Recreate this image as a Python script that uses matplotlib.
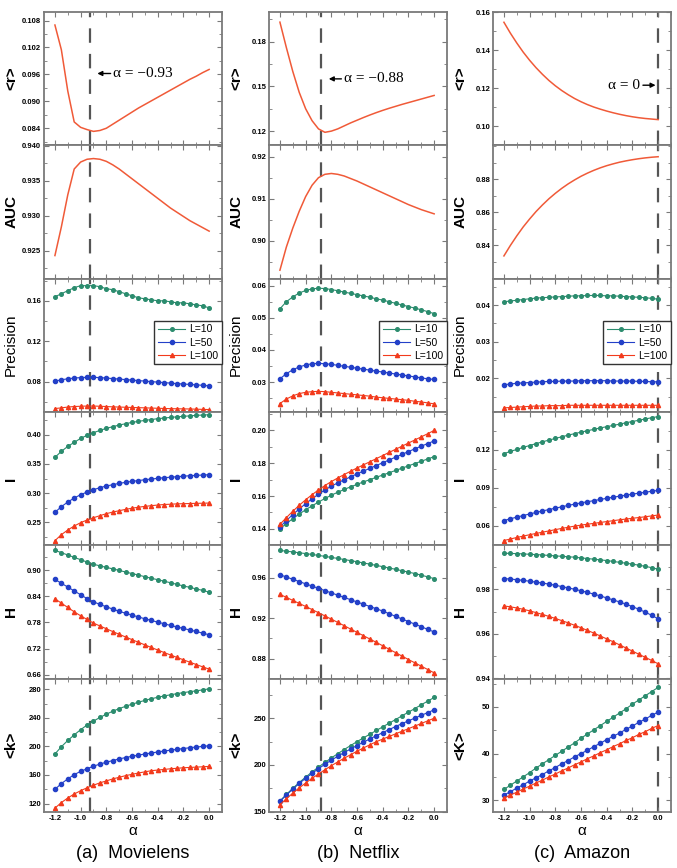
import numpy as np
import matplotlib.pyplot as plt
from matplotlib.ticker import MultipleLocator, AutoMinorLocator, FormatStrFormatter

plt.rcParams['font.family'] = ['Liberation Sans', 'DejaVu Sans']

alpha = [-1.2, -1.15, -1.1, -1.05, -1.0, -0.95, -0.9, -0.85, -0.8, -0.75, -0.7, -0.65,
         -0.6, -0.55, -0.5, -0.45, -0.4, -0.35, -0.3, -0.25, -0.2, -0.15, -0.1, -0.05, 0.0]

# ---- (a) Movielens ----
ml_r = [0.1070, 0.1015, 0.0923, 0.0854, 0.0842, 0.0837, 0.0833, 0.0835, 0.0840, 0.0849, 0.0858, 0.0867,
        0.0876, 0.0885, 0.0893, 0.0901, 0.0909, 0.0917, 0.0925, 0.0933, 0.0941, 0.0949, 0.0956, 0.0964, 0.0971]
ml_auc = [0.9243, 0.9284, 0.9330, 0.9367, 0.9377, 0.9381, 0.9382, 0.9381, 0.9378, 0.9373, 0.9367, 0.9360,
          0.9353, 0.9346, 0.9339, 0.9332, 0.9325, 0.9318, 0.9311, 0.9305, 0.9299, 0.9293, 0.9288, 0.9283, 0.9278]
ml_prec10 = [0.164, 0.167, 0.170, 0.173, 0.175, 0.175, 0.175, 0.174, 0.172, 0.171, 0.169, 0.167,
             0.165, 0.163, 0.162, 0.161, 0.160, 0.160, 0.159, 0.158, 0.158, 0.157, 0.156, 0.155, 0.153]
ml_prec50 = [0.0805, 0.0818, 0.0828, 0.0835, 0.0840, 0.0842, 0.0842, 0.0840, 0.0835, 0.0830, 0.0825, 0.0820,
             0.0815, 0.0810, 0.0805, 0.0800, 0.0795, 0.0790, 0.0785, 0.0780, 0.0776, 0.0772, 0.0768, 0.0763, 0.0758]
ml_prec100 = [0.0533, 0.0540, 0.0548, 0.0553, 0.0556, 0.0558, 0.0558, 0.0556, 0.0553, 0.0550, 0.0548, 0.0546,
              0.0544, 0.0542, 0.0540, 0.0538, 0.0536, 0.0534, 0.0532, 0.0531, 0.0530, 0.0529, 0.0527, 0.0525, 0.0523]
ml_i10 = [0.3612, 0.3715, 0.3800, 0.3869, 0.3937, 0.3989, 0.4034, 0.4074, 0.4108, 0.4137, 0.4165, 0.4188,
          0.4211, 0.4228, 0.4245, 0.4259, 0.4274, 0.4285, 0.4296, 0.4305, 0.4314, 0.4322, 0.4331, 0.4336, 0.4342]
ml_i50 = [0.2672, 0.2769, 0.2848, 0.2917, 0.2974, 0.3019, 0.3059, 0.3094, 0.3122, 0.3145, 0.3168, 0.3185,
          0.3202, 0.3216, 0.3230, 0.3242, 0.3253, 0.3265, 0.3273, 0.3282, 0.3290, 0.3299, 0.3304, 0.3310, 0.3316]
ml_i100 = [0.2187, 0.2290, 0.2370, 0.2438, 0.2495, 0.2541, 0.2580, 0.2615, 0.2649, 0.2677, 0.2700, 0.2723,
           0.2743, 0.2760, 0.2774, 0.2786, 0.2797, 0.2806, 0.2811, 0.2817, 0.2820, 0.2823, 0.2826, 0.2828, 0.2831]
ml_h10 = [0.9461, 0.9408, 0.9354, 0.9300, 0.9246, 0.9192, 0.9142, 0.9104, 0.9069, 0.9035, 0.9000, 0.8962,
          0.8927, 0.8892, 0.8854, 0.8819, 0.8785, 0.8750, 0.8715, 0.8677, 0.8642, 0.8608, 0.8573, 0.8538, 0.8500]
ml_h50 = [0.8792, 0.8704, 0.8616, 0.8527, 0.8439, 0.8350, 0.8277, 0.8216, 0.8162, 0.8108, 0.8058, 0.8012,
          0.7970, 0.7927, 0.7885, 0.7847, 0.7808, 0.7770, 0.7731, 0.7697, 0.7662, 0.7627, 0.7593, 0.7554, 0.7516]
ml_h100 = [0.8346, 0.8246, 0.8146, 0.8046, 0.7954, 0.7870, 0.7785, 0.7720, 0.7655, 0.7591, 0.7528, 0.7466,
           0.7404, 0.7344, 0.7284, 0.7224, 0.7166, 0.7108, 0.7051, 0.6995, 0.6940, 0.6885, 0.6831, 0.6778, 0.6726]
ml_k10 = [189.4, 199.5, 208.3, 216.1, 223.4, 229.9, 235.4, 240.5, 245.1, 249.2, 252.9, 256.1,
          259.1, 261.8, 264.4, 266.7, 268.7, 270.6, 272.2, 273.8, 275.2, 276.6, 277.7, 279.1, 280.5]
ml_k50 = [139.8, 148.0, 154.5, 160.5, 165.1, 168.7, 172.4, 175.2, 177.9, 180.2, 182.5, 184.4,
          186.2, 187.8, 189.4, 190.8, 192.2, 193.6, 194.7, 195.9, 197.0, 198.2, 199.1, 200.0, 200.9]
ml_k100 = [113.6, 121.4, 127.8, 133.4, 138.0, 142.1, 145.7, 149.0, 151.7, 154.5, 156.8, 159.1,
           160.9, 162.8, 164.4, 166.0, 166.9, 167.8, 168.7, 169.4, 170.1, 170.6, 171.0, 171.5, 172.0]

# ---- (b) Netflix ----
nf_r = [0.193, 0.176, 0.160, 0.146, 0.135, 0.127, 0.1215, 0.1192, 0.1200, 0.1215, 0.1235, 0.1255,
        0.1273, 0.1291, 0.1308, 0.1324, 0.1339, 0.1353, 0.1366, 0.1379, 0.1391, 0.1403, 0.1415, 0.1427, 0.1439]
nf_auc = [0.8930, 0.8985, 0.9030, 0.9070, 0.9105, 0.9132, 0.9150, 0.9158, 0.9160, 0.9158, 0.9154, 0.9148,
          0.9142, 0.9135, 0.9128, 0.9121, 0.9114, 0.9107, 0.9100, 0.9093, 0.9086, 0.9080, 0.9074, 0.9069, 0.9064]
nf_prec10 = [0.0528, 0.0550, 0.0565, 0.0577, 0.0585, 0.0590, 0.0592, 0.0591, 0.0588, 0.0584, 0.0580, 0.0576,
             0.0572, 0.0568, 0.0564, 0.0559, 0.0555, 0.0550, 0.0545, 0.0540, 0.0535, 0.0530, 0.0525, 0.0519, 0.0513]
nf_prec50 = [0.0310, 0.0326, 0.0338, 0.0347, 0.0353, 0.0357, 0.0358, 0.0357, 0.0355, 0.0352, 0.0349, 0.0346,
             0.0343, 0.0340, 0.0337, 0.0334, 0.0331, 0.0328, 0.0325, 0.0322, 0.0319, 0.0316, 0.0313, 0.0310, 0.0308]
nf_prec100 = [0.0233, 0.0247, 0.0257, 0.0264, 0.0268, 0.0270, 0.0271, 0.0270, 0.0268, 0.0266, 0.0264, 0.0262,
              0.0260, 0.0258, 0.0256, 0.0253, 0.0251, 0.0249, 0.0247, 0.0245, 0.0243, 0.0240, 0.0238, 0.0235, 0.0232]
nf_i10 = [0.1400, 0.1432, 0.1462, 0.1490, 0.1516, 0.1540, 0.1563, 0.1585, 0.1605, 0.1623, 0.1640, 0.1656,
          0.1671, 0.1686, 0.1700, 0.1714, 0.1728, 0.1742, 0.1756, 0.1770, 0.1784, 0.1798, 0.1812, 0.1826, 0.1840]
nf_i50 = [0.1411, 0.1450, 0.1487, 0.1521, 0.1553, 0.1583, 0.1611, 0.1637, 0.1660, 0.1680, 0.1699, 0.1717,
          0.1735, 0.1752, 0.1769, 0.1786, 0.1803, 0.1820, 0.1837, 0.1854, 0.1871, 0.1888, 0.1904, 0.1920, 0.1936]
nf_i100 = [0.1427, 0.1468, 0.1507, 0.1543, 0.1577, 0.1608, 0.1637, 0.1664, 0.1688, 0.1710, 0.1731, 0.1751,
           0.1771, 0.1790, 0.1809, 0.1828, 0.1847, 0.1866, 0.1885, 0.1904, 0.1923, 0.1942, 0.1961, 0.1980, 0.2000]
nf_h10 = [0.9871, 0.9864, 0.9856, 0.9848, 0.9840, 0.9831, 0.9822, 0.9812, 0.9802, 0.9792, 0.9781, 0.9770,
          0.9759, 0.9747, 0.9735, 0.9723, 0.9710, 0.9697, 0.9684, 0.9670, 0.9656, 0.9642, 0.9626, 0.9609, 0.9592]
nf_h50 = [0.9630, 0.9608, 0.9585, 0.9563, 0.9540, 0.9518, 0.9495, 0.9473, 0.9450, 0.9428, 0.9405, 0.9383,
          0.9360, 0.9338, 0.9315, 0.9293, 0.9270, 0.9244, 0.9218, 0.9192, 0.9166, 0.9141, 0.9115, 0.9089, 0.9063]
nf_h100 = [0.9436, 0.9406, 0.9376, 0.9346, 0.9316, 0.9285, 0.9254, 0.9222, 0.9190, 0.9158, 0.9125, 0.9092,
           0.9059, 0.9026, 0.8993, 0.8960, 0.8926, 0.8892, 0.8858, 0.8824, 0.8790, 0.8757, 0.8724, 0.8691, 0.8658]
nf_k10 = [161.5, 168.5, 175.0, 181.2, 187.0, 192.5, 197.7, 202.7, 207.5, 212.1, 216.5, 220.8,
          225.0, 229.0, 232.9, 236.9, 240.8, 244.7, 248.6, 252.6, 256.5, 260.4, 264.4, 268.3, 272.2]
nf_k50 = [161.0, 167.8, 174.2, 180.2, 185.8, 191.0, 196.0, 200.7, 205.1, 209.3, 213.3, 217.1,
          220.8, 224.4, 227.9, 231.3, 234.6, 237.9, 241.1, 244.2, 247.2, 250.2, 253.1, 256.0, 259.0]
nf_k100 = [157.5, 163.8, 169.8, 175.4, 180.7, 185.7, 190.4, 194.9, 199.2, 203.3, 207.2, 211.0,
           214.7, 218.2, 221.6, 224.9, 227.7, 230.5, 233.3, 236.1, 238.8, 241.6, 244.4, 247.2, 250.0]

# ---- (c) Amazon ----
az_r = [0.1547, 0.1490, 0.1438, 0.1390, 0.1347, 0.1308, 0.1273, 0.1241, 0.1213, 0.1188, 0.1166, 0.1146,
        0.1129, 0.1114, 0.1101, 0.1090, 0.1080, 0.1071, 0.1063, 0.1056, 0.1050, 0.1045, 0.1041, 0.1038, 0.1035]
az_auc = [0.8337, 0.8400, 0.8458, 0.8512, 0.8560, 0.8605, 0.8645, 0.8682, 0.8715, 0.8745, 0.8772, 0.8796,
          0.8818, 0.8837, 0.8854, 0.8869, 0.8882, 0.8893, 0.8903, 0.8911, 0.8918, 0.8924, 0.8929, 0.8933, 0.8936]
az_prec10 = [0.0409, 0.0411, 0.0413, 0.0415, 0.0417, 0.0419, 0.0420, 0.0421, 0.0422, 0.0423, 0.0424, 0.0425,
             0.0425, 0.0426, 0.0426, 0.0426, 0.0425, 0.0425, 0.0424, 0.0423, 0.0422, 0.0421, 0.0420, 0.0418, 0.0416]
az_prec50 = [0.0183, 0.0185, 0.0187, 0.0188, 0.0189, 0.0190, 0.0191, 0.0192, 0.0192, 0.0193, 0.0193, 0.0193,
             0.0194, 0.0194, 0.0194, 0.0194, 0.0194, 0.0193, 0.0193, 0.0193, 0.0193, 0.0192, 0.0192, 0.0191, 0.0191]
az_prec100 = [0.0120, 0.0121, 0.0122, 0.0123, 0.0124, 0.0125, 0.0125, 0.0126, 0.0126, 0.0126, 0.0127, 0.0127,
              0.0127, 0.0127, 0.0127, 0.0127, 0.0127, 0.0127, 0.0127, 0.0127, 0.0127, 0.0127, 0.0127, 0.0127, 0.0127]
az_i10 = [0.1170, 0.1187, 0.1203, 0.1219, 0.1234, 0.1249, 0.1263, 0.1277, 0.1290, 0.1303, 0.1316, 0.1328,
          0.1340, 0.1351, 0.1362, 0.1373, 0.1383, 0.1393, 0.1403, 0.1414, 0.1424, 0.1434, 0.1444, 0.1454, 0.1463]
az_i50 = [0.0640, 0.0654, 0.0667, 0.0680, 0.0692, 0.0704, 0.0716, 0.0727, 0.0738, 0.0749, 0.0760, 0.0770,
          0.0780, 0.0789, 0.0798, 0.0807, 0.0816, 0.0825, 0.0833, 0.0841, 0.0849, 0.0857, 0.0864, 0.0872, 0.0879]
az_i100 = [0.0482, 0.0494, 0.0506, 0.0517, 0.0528, 0.0538, 0.0548, 0.0558, 0.0568, 0.0578, 0.0587, 0.0596,
           0.0604, 0.0611, 0.0618, 0.0625, 0.0632, 0.0639, 0.0646, 0.0652, 0.0658, 0.0664, 0.0670, 0.0677, 0.0684]
az_h10 = [0.9962, 0.9961, 0.9960, 0.9959, 0.9957, 0.9956, 0.9954, 0.9952, 0.9950, 0.9948, 0.9946, 0.9944,
          0.9941, 0.9938, 0.9935, 0.9932, 0.9929, 0.9925, 0.9921, 0.9917, 0.9913, 0.9908, 0.9903, 0.9897, 0.9890]
az_h50 = [0.9848, 0.9846, 0.9843, 0.9840, 0.9836, 0.9832, 0.9828, 0.9823, 0.9818, 0.9812, 0.9806, 0.9800,
          0.9793, 0.9786, 0.9778, 0.9770, 0.9761, 0.9752, 0.9743, 0.9733, 0.9722, 0.9710, 0.9697, 0.9683, 0.9667]
az_h100 = [0.9725, 0.9721, 0.9716, 0.9710, 0.9703, 0.9695, 0.9687, 0.9678, 0.9669, 0.9659, 0.9649, 0.9638,
           0.9627, 0.9615, 0.9603, 0.9590, 0.9577, 0.9564, 0.9550, 0.9536, 0.9522, 0.9508, 0.9494, 0.9480, 0.9465]
az_k10 = [32.3, 33.2, 34.1, 35.0, 35.9, 36.9, 37.8, 38.7, 39.6, 40.5, 41.4, 42.3,
          43.3, 44.2, 45.1, 46.0, 46.9, 47.8, 48.7, 49.6, 50.6, 51.5, 52.4, 53.3, 54.2]
az_k50 = [31.1, 31.8, 32.6, 33.3, 34.1, 34.8, 35.5, 36.3, 37.0, 37.8, 38.5, 39.3,
          40.0, 40.7, 41.5, 42.2, 43.0, 43.7, 44.4, 45.2, 45.9, 46.7, 47.4, 48.2, 48.9]
az_k100 = [30.4, 31.1, 31.7, 32.4, 33.0, 33.7, 34.3, 35.0, 35.6, 36.3, 36.9, 37.6,
           38.2, 38.9, 39.5, 40.2, 40.8, 41.5, 42.1, 42.8, 43.4, 44.1, 44.7, 45.4, 46.0]

best_alpha = [-0.93, -0.88, 0.0]
captions = ['(a)  Movielens', '(b)  Netflix', '(c)  Amazon']
row_labels = ['<r>', 'AUC', 'Precision', 'I', 'H', '<k>']
legend_labels = ['L=10', 'L=50', 'L=100']

# ------ styling / layout --------------------------------------------------
c_top = '#f05a38'
c_green = '#2b8c6e'
c_blue = '#2340c8'
c_red = '#f23a1c'
c_dash = '#555555'
c_spine = '#7a7a7a'

W, H = 677, 868
lefts = [44, 269, 493]
ax_w = 178
top_px = 12
row_h = 133.3

columns = [
    dict(r=ml_r, auc=ml_auc, prec=[ml_prec10, ml_prec50, ml_prec100], i=[ml_i10, ml_i50, ml_i100],
         h=[ml_h10, ml_h50, ml_h100], k=[ml_k10, ml_k50, ml_k100], klabel='<k>',
         ylims=[(0.0802, 0.1099), (0.921, 0.9401), (0.050, 0.182), (0.211, 0.439), (0.651, 0.958), (108.5, 295)],
         yticks=[[0.084, 0.090, 0.096, 0.102, 0.108], [0.925, 0.930, 0.935, 0.940], [0.08, 0.12, 0.16],
                 [0.25, 0.30, 0.35, 0.40], [0.66, 0.72, 0.78, 0.84, 0.90], [120, 160, 200, 240, 280]],
         fmts=['%.3f', '%.3f', '%.2f', '%.2f', '%.2f', '%d']),
    dict(r=nf_r, auc=nf_auc, prec=[nf_prec10, nf_prec50, nf_prec100], i=[nf_i10, nf_i50, nf_i100],
         h=[nf_h10, nf_h50, nf_h100], k=[nf_k10, nf_k50, nf_k100], klabel='<k>',
         ylims=[(0.1105, 0.1998), (0.891, 0.9227), (0.0207, 0.0622), (0.130, 0.2113), (0.8602, 0.9923), (149.9, 292.5)],
         yticks=[[0.12, 0.15, 0.18], [0.90, 0.91, 0.92], [0.03, 0.04, 0.05, 0.06],
                 [0.14, 0.16, 0.18, 0.20], [0.88, 0.92, 0.96], [150, 200, 250]],
         fmts=['%.2f', '%.2f', '%.2f', '%.2f', '%.2f', '%d']),
    dict(r=az_r, auc=az_auc, prec=[az_prec10, az_prec50, az_prec100], i=[az_i10, az_i50, az_i100],
         h=[az_h10, az_h50, az_h100], k=[az_k10, az_k50, az_k100], klabel='<K>',
         ylims=[(0.090, 0.1601), (0.82, 0.9005), (0.0109, 0.0472), (0.0445, 0.150), (0.9399, 0.9998), (27.5, 56.1)],
         yticks=[[0.10, 0.12, 0.14, 0.16], [0.84, 0.86, 0.88], [0.02, 0.03, 0.04],
                 [0.06, 0.09, 0.12], [0.94, 0.96, 0.98], [30, 40, 50]],
         fmts=['%.2f', '%.2f', '%.2f', '%.2f', '%.2f', '%d']),
]

series_style = [dict(color=c_green, marker='o', ms=2.6),
                dict(color=c_blue, marker='o', ms=3.0),
                dict(color=c_red, marker='^', ms=3.0)]

fig = plt.figure(figsize=(W / 100, H / 100), dpi=100)

for c, col in enumerate(columns):
    for r in range(6):
        bottom_px = top_px + (r + 1) * row_h
        ax = fig.add_axes([lefts[c] / W, 1 - bottom_px / H, ax_w / W, row_h / H])
        if r == 0:
            ax.plot(alpha, col['r'], color=c_top, lw=1.1)
        elif r == 1:
            ax.plot(alpha, col['auc'], color=c_top, lw=1.1)
        else:
            key = ['prec', 'i', 'h', 'k'][r - 2]
            for ys, st, lab in zip(col[key], series_style, legend_labels):
                ax.plot(alpha, ys, lw=0.8, label=lab, **st)
        ax.axvline(best_alpha[c], color=c_dash, lw=1.6, ls=(0, (6.5, 5)), zorder=0)

        ax.set_xlim(-1.285, 0.1)
        ax.set_ylim(*col['ylims'][r])
        ax.set_yticks(col['yticks'][r])
        ax.yaxis.set_major_formatter(FormatStrFormatter(col['fmts'][r]))
        ax.yaxis.set_minor_locator(AutoMinorLocator(2))
        ax.xaxis.set_major_locator(MultipleLocator(0.2))
        ax.xaxis.set_minor_locator(MultipleLocator(0.1))
        ax.tick_params(which='both', direction='in', top=True, right=True, color=c_spine,
                       labelsize=5.5, pad=2)
        ax.tick_params(which='major', length=3.5, width=0.8)
        ax.tick_params(which='minor', length=2, width=0.6)
        for sp in ax.spines.values():
            sp.set_color(c_spine)
            sp.set_linewidth(1.3)
        for lbl in ax.get_yticklabels() + ax.get_xticklabels():
            lbl.set_fontweight('bold')

        ylab = row_labels[r] if r < 5 else col['klabel']
        ax.set_ylabel(ylab, fontsize=11, fontweight='normal' if r == 2 else 'bold')
        ax.yaxis.set_label_coords(-0.145, 0.5)

        if r < 5:
            ax.tick_params(labelbottom=False)
        else:
            ax.set_xticks([-1.2, -1.0, -0.8, -0.6, -0.4, -0.2, 0.0])
            ax.xaxis.set_major_formatter(FormatStrFormatter('%.1f'))
            for lbl in ax.get_xticklabels():
                lbl.set_fontweight('bold')
            ax.set_xlabel('α', fontsize=11, labelpad=2)

        if r == 2:
            ax.legend(loc='center right', bbox_to_anchor=(1.0, 0.52), fontsize=7.5, frameon=True,
                      fancybox=False, edgecolor='#333333', framealpha=1, borderaxespad=0,
                      handlelength=2.6, labelspacing=0.3, borderpad=0.35, handletextpad=0.4)

        if r == 0:
            serif = ['Liberation Serif', 'DejaVu Serif']
            arrow = dict(arrowstyle='-|>', color='black', lw=1.0, shrinkA=0, shrinkB=0,
                         mutation_scale=7)
            if c == 0:
                ax.annotate('α = −0.93', xy=(-0.87, 0.0962), xytext=(-0.745, 0.0962),
                            ha='left', va='center', fontsize=11, family=serif, arrowprops=arrow)
            elif c == 1:
                ax.annotate('α = −0.88', xy=(-0.82, 0.155), xytext=(-0.70, 0.155),
                            ha='left', va='center', fontsize=11, family=serif, arrowprops=arrow)
            else:
                ax.annotate('α = 0', xy=(-0.02, 0.1216), xytext=(-0.14, 0.1216),
                            ha='right', va='center', fontsize=11, family=serif, arrowprops=arrow)

    fig.text((lefts[c] + ax_w / 2) / W, 1 - 853 / H, captions[c], ha='center', va='center',
             fontsize=13)

fig.savefig('out.png', dpi=100)
